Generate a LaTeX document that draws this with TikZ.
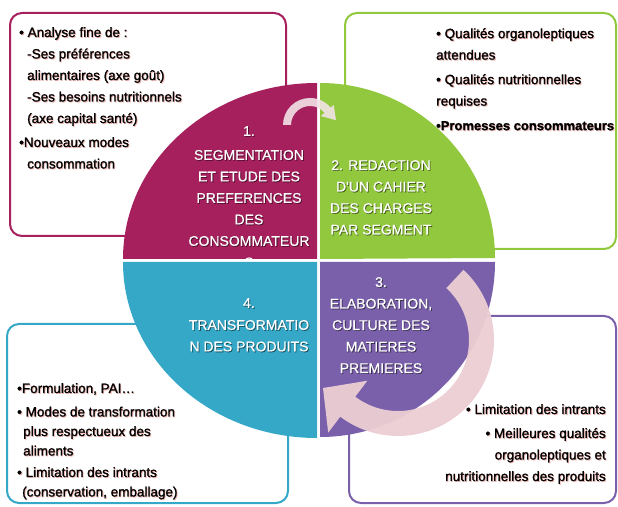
\documentclass[tikz,border=0pt]{standalone}
\usepackage{fontspec}
\setmainfont{Liberation Sans}
\newfontfamily\boxfont[FakeBold=1.3]{Liberation Sans}
\newfontfamily\circfont[FakeBold=0.7]{Liberation Sans}
\usetikzlibrary{calc}
\definecolor{cMag}{RGB}{166,32,94}
\definecolor{cGrn}{RGB}{146,200,62}
\definecolor{cPur}{RGB}{122,96,170}
\definecolor{cBlu}{RGB}{53,168,200}
\definecolor{cArr}{RGB}{236,206,212}
\definecolor{cArrS}{RGB}{242,226,230}
\definecolor{cGlow}{RGB}{225,120,110}
\newcommand{\shtext}[4]{%
  \node[#2, text=#4, opacity=0.45, xshift=0.9pt, yshift=-0.9pt] (#1s) at (#3) {\csname txt#1\endcsname};
  \node[#2] (#1) at (#3) {\csname txt#1\endcsname};}
\begin{document}
\begin{tikzpicture}[x=1pt,y=1pt]
\useasboundingbox (0,0) rectangle (618,506);
\tikzset{
  box/.style={line width=2pt, rounded corners=12pt},
  btext/.style={font=\boxfont\fontsize{13.5}{21.5}\selectfont, inner sep=0pt, text=black},
  ctext/.style={font=\circfont\fontsize{14}{21.5}\selectfont, inner sep=0pt, text=white, align=center, anchor=north},
}
\expandafter\def\csname txttmag\endcsname{•\ Analyse fine de :\\
   \hspace*{8pt}-Ses préférences\\
   \hspace*{8pt}alimentaires (axe goût)\\
   \hspace*{8pt}-Ses besoins nutritionnels\\
   \hspace*{8pt}(axe capital santé)\\[2.5pt]
   •Nouveaux modes\\
   \hspace*{8pt}consommation}
\expandafter\def\csname txttgrn\endcsname{•\ Qualités organoleptiques\\
   attendues\\[3pt]
   •\ Qualités nutritionnelles\\
   requises\\[3pt]
   {\bfseries\fontsize{13}{21.5}\selectfont •Promesses consommateurs}}
\expandafter\def\csname txttblu\endcsname{•Formulation, PAI…\\[4pt]
   •\ Modes de transformation\\
   \hspace*{6pt}plus respectueux des\\
   \hspace*{6pt}aliments\\[2pt]
   •\ Limitation des intrants\\
   \hspace*{5pt}(conservation, emballage)}
\expandafter\def\csname txttpur\endcsname{•\ Limitation des intrants\\[2.5pt]
   •\ Meilleures qualités\\
   organoleptiques et\\
   nutritionnelles des produits}
\expandafter\def\csname txtqa\endcsname{1.\\[2.5pt]SEGMENTATION\\ET ETUDE DES\\PREFERENCES\\DES\\CONSOMMATEUR\\S}
\expandafter\def\csname txtqb\endcsname{2. REDACTION\\D'UN CAHIER\\DES CHARGES\\PAR SEGMENT}
\expandafter\def\csname txtqc\endcsname{3.\\ELABORATION,\\CULTURE DES\\MATIERES\\PREMIERES}
\expandafter\def\csname txtqd\endcsname{4.\\[0.5pt]TRANSFORMATIO\\N DES PRODUITS}
% boxes
\draw[box, draw=cMag] (10,270) rectangle (286,493);
\draw[box, draw=cGrn] (345,257) rectangle (616,493);
\draw[box, draw=cBlu] (7,3) rectangle (288,182);
\draw[box, draw=cPur] (349,3) rectangle (616,190);
% box texts
\shtext{tmag}{btext, anchor=north west, align=left}{19,479}{cGlow}
\shtext{tgrn}{btext, anchor=north west, align=left}{436,478}{cGlow}
\shtext{tblu}{btext, anchor=north west, align=left, font=\boxfont\fontsize{13.5}{19.5}\selectfont}{17,123}{cGlow}
\shtext{tpur}{btext, anchor=north east, align=right}{606,102}{cGlow}
% quadrants
\fill[cMag] (317,247) -- (123,247) arc[start angle=180, end angle=90, x radius=194pt, y radius=176pt] -- cycle;
\fill[cGrn] (320,247) -- (320,423) arc[start angle=90, end angle=0, radius=175pt] -- cycle;
\fill[cPur] (320,244) -- (495,244) arc[start angle=0, end angle=-90, radius=175pt] -- cycle;
\fill[cBlu] (317,244) -- (317,68) arc[start angle=-90, end angle=-180, x radius=194pt, y radius=176pt] -- cycle;
% quadrant texts
\begin{scope}
  \clip (317,247) -- (123,247) arc[start angle=180, end angle=90, x radius=194pt, y radius=176pt] -- cycle;
  \shtext{qa}{ctext}{249,380}{black}
\end{scope}
\shtext{qb}{ctext}{381,346}{black}
\shtext{qc}{ctext}{381,229}{black}
\shtext{qd}{ctext}{249,208}{black}
% small arrow
\coordinate (sc) at (310,381);
\fill[cArrS, opacity=0.9] ($(sc)+(180:27pt)$) arc[start angle=180, end angle=40, radius=27pt]
  -- ($(sc)+(40:31pt)$) -- ($(sc)+(40:23pt)+(-50:13pt)$) -- ($(sc)+(40:14pt)$)
  -- ($(sc)+(40:19pt)$) arc[start angle=40, end angle=180, radius=19pt] -- cycle;
% big arrow
\coordinate (bc) at (398,166);
\fill[cArr, opacity=0.95] ($(bc)+(47:96pt)$) arc[start angle=47, end angle=-127, radius=96pt]
  -- ($(bc)+(-127:116pt)$) -- ($(bc)+(-127:83.5pt)+(143:31pt)$) -- ($(bc)+(-127:51pt)$)
  -- ($(bc)+(-127:71pt)$) arc[start angle=-127, end angle=47, radius=71pt] -- cycle;
\end{tikzpicture}
\end{document}
